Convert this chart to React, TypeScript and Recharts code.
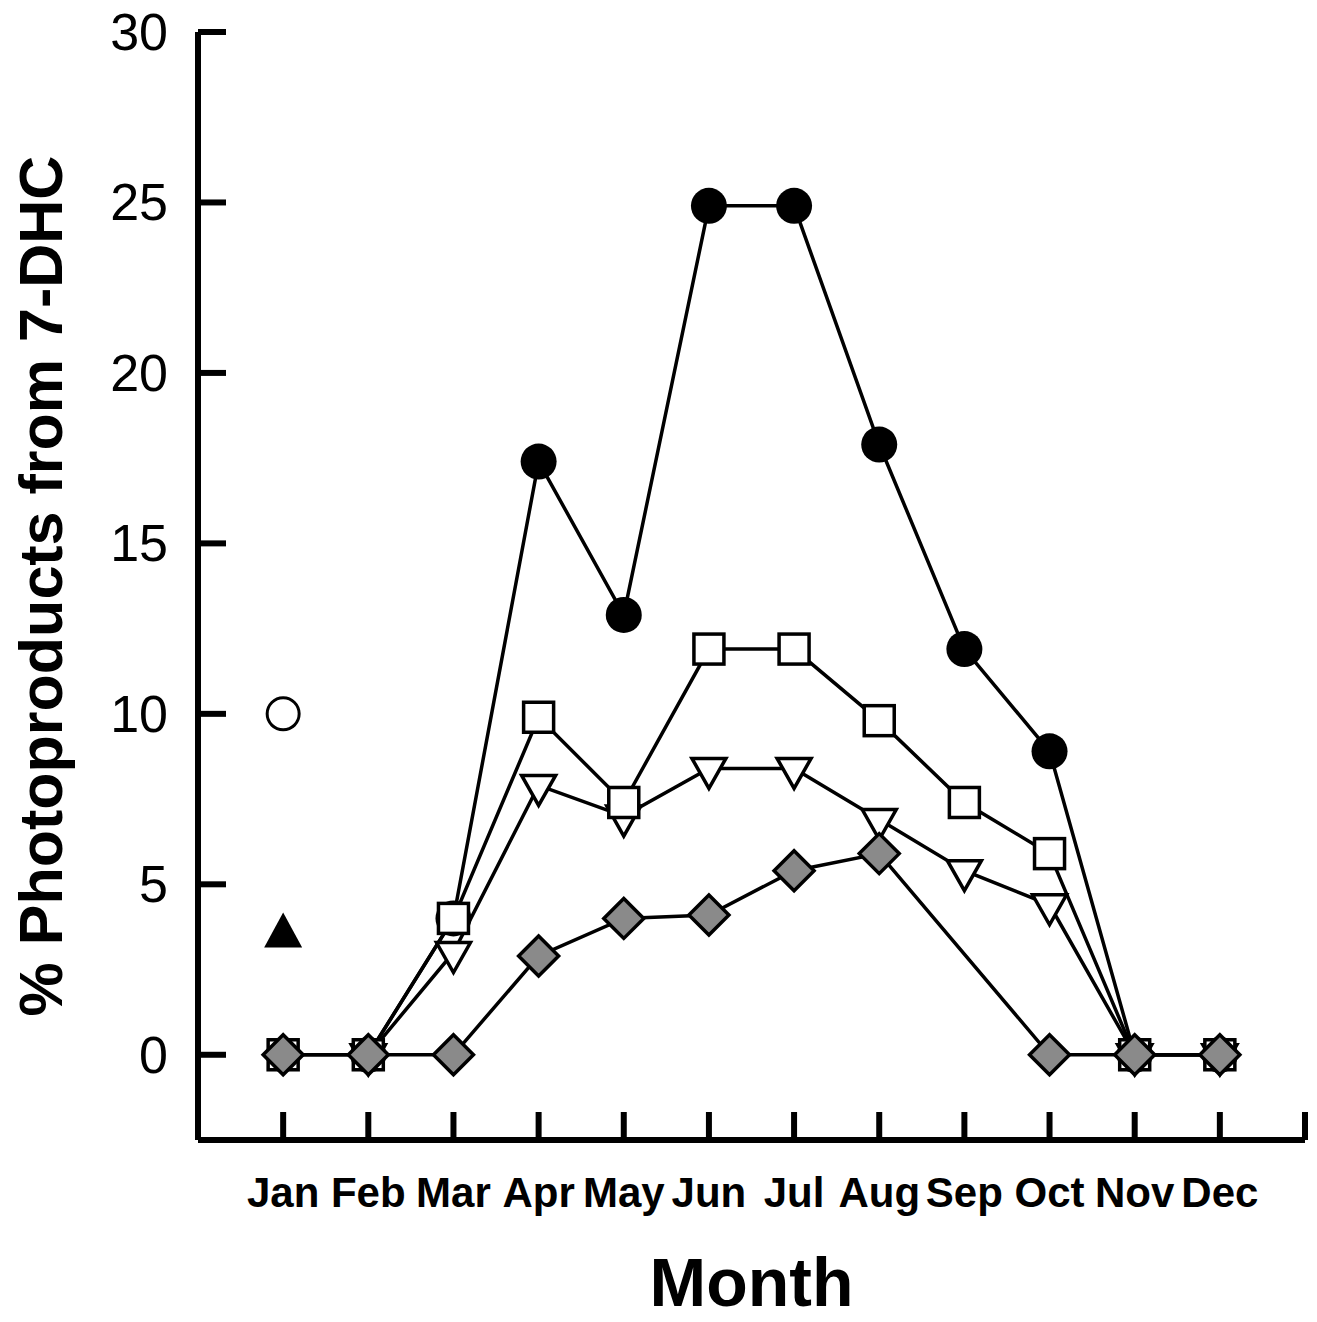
import { LineChart, Line, XAxis, YAxis } from "recharts";

const months = ["Jan", "Feb", "Mar", "Apr", "May", "Jun", "Jul", "Aug", "Sep", "Oct", "Nov", "Dec"];
const filledCircle = [null, 0, 4, 17.4, 12.9, 24.9, 24.9, 17.9, 11.9, 8.9, 0, 0];
const openSquare = [0, 0, 4, 9.9, 7.4, 11.9, 11.9, 9.8, 7.4, 5.9, 0, 0];
const openTriangle = [null, 0, 3, 7.9, 7.0, 8.4, 8.4, 6.9, 5.4, 4.4, 0, 0];
const greyDiamond = [0, 0, 0, 2.9, 4.0, 4.1, 5.4, 5.9, null, 0, 0, 0];
const openCircle = [10, null, null, null, null, null, null, null, null, null, null, null];
const filledTriangle = [3.5, null, null, null, null, null, null, null, null, null, null, null];
const yTicks = [0, 5, 10, 15, 20, 25, 30];
const xTicks = [1, 2, 3, 4, 5, 6, 7, 8, 9, 10, 11, 12, 13];

const data = months.map((m, i) => ({
  m: i + 1,
  name: m,
  circle: filledCircle[i],
  square: openSquare[i],
  tri: openTriangle[i],
  diamond: greyDiamond[i],
  ocircle: openCircle[i],
  ftri: filledTriangle[i],
}));

const FONT = "'Liberation Sans', Arial, Helvetica, sans-serif";
const SW = 3.5;

const makeDot = (kind) => (props) => {
  const { cx, cy, index, value } = props;
  const key = `${kind}-${index}`;
  if (cx == null || cy == null || value == null) return <g key={key} />;
  switch (kind) {
    case "circle":
      return <circle key={key} cx={cx} cy={cy} r={18} fill="#000" />;
    case "ocircle":
      return <circle key={key} cx={cx} cy={cy} r={16} fill="#fff" stroke="#000" strokeWidth={3} />;
    case "square":
      return <rect key={key} x={cx - 15} y={cy - 15} width={30} height={30} fill="#fff" stroke="#000" strokeWidth={SW} />;
    case "tri":
      return (
        <path key={key} d={`M${cx - 17},${cy - 10}L${cx + 17},${cy - 10}L${cx},${cy + 20}Z`}
          fill="#fff" stroke="#000" strokeWidth={SW} strokeLinejoin="miter" />
      );
    case "ftri":
      return <path key={key} d={`M${cx},${cy - 23}L${cx + 19},${cy + 12}L${cx - 19},${cy + 12}Z`} fill="#000" />;
    case "diamond":
      return (
        <path key={key} d={`M${cx},${cy - 20}L${cx + 20},${cy}L${cx},${cy + 20}L${cx - 20},${cy}Z`}
          fill="#8a8a8a" stroke="#000" strokeWidth={SW} />
      );
    default:
      return <g key={key} />;
  }
};

const XTick = (props) => {
  const { x, y, payload } = props;
  const label = months[payload.value - 1] || "";
  return (
    <g>
      <line x1={x} y1={y} x2={x} y2={y - 28} stroke="#000" strokeWidth={6} />
      <text x={x} y={y + 67} textAnchor="middle" fontFamily={FONT} fontWeight="bold" fontSize={42} fill="#000">
        {label}
      </text>
    </g>
  );
};

const YTick = (props) => {
  const { x, y, payload } = props;
  return (
    <g>
      <line x1={x} y1={y} x2={x + 28} y2={y} stroke="#000" strokeWidth={6} />
      <text x={x - 30} y={y} dy={18} textAnchor="end" fontFamily={FONT} fontSize={52} fill="#000">
        {payload.value}
      </text>
    </g>
  );
};

const MonthLabel = (props) => {
  const { viewBox } = props;
  return (
    <text x={viewBox.x + viewBox.width / 2} y={viewBox.y + 166} textAnchor="middle"
      fontFamily={FONT} fontWeight="bold" fontSize={68} fill="#000">
      Month
    </text>
  );
};

const YLabel = (props) => {
  const { viewBox } = props;
  const cy = viewBox.y + viewBox.height / 2;
  return (
    <text x={54} y={cy} transform={`rotate(-90, 54, ${cy})`} textAnchor="middle"
      fontFamily={FONT} fontWeight="bold" fontSize={61} fill="#000">
      % Photoproducts from 7-DHC
    </text>
  );
};

export default function App() {
  return (
    <div style={{ marginTop: -8, marginLeft: 0 }}>
      <LineChart width={1309} height={1322} data={data} margin={{ top: 32, right: 12, left: 0, bottom: 0 }}>
        <XAxis
          dataKey="m"
          type="number"
          domain={[0, 13]}
          ticks={xTicks}
          interval={0}
          height={182}
          tickLine={false}
          tickSize={0}
          tickMargin={0}
          axisLine={{ stroke: "#000", strokeWidth: 6 }}
          tick={<XTick />}
          label={{ content: MonthLabel }}
        />
        <YAxis
          type="number"
          domain={[-2.5, 30]}
          ticks={yTicks}
          interval={0}
          width={190}
          tickLine={false}
          tickSize={0}
          tickMargin={0}
          axisLine={{ stroke: "#000", strokeWidth: 6 }}
          tick={<YTick />}
          label={{ content: YLabel }}
        />
        <Line dataKey="circle" stroke="#000" strokeWidth={SW} dot={makeDot("circle")} isAnimationActive={false} />
        <Line dataKey="tri" stroke="#000" strokeWidth={SW} dot={makeDot("tri")} isAnimationActive={false} />
        <Line dataKey="square" stroke="#000" strokeWidth={SW} dot={makeDot("square")} isAnimationActive={false} />
        <Line dataKey="diamond" stroke="#000" strokeWidth={SW} connectNulls dot={makeDot("diamond")} isAnimationActive={false} />
        <Line dataKey="ocircle" stroke="none" dot={makeDot("ocircle")} isAnimationActive={false} />
        <Line dataKey="ftri" stroke="none" dot={makeDot("ftri")} isAnimationActive={false} />
      </LineChart>
    </div>
  );
}
